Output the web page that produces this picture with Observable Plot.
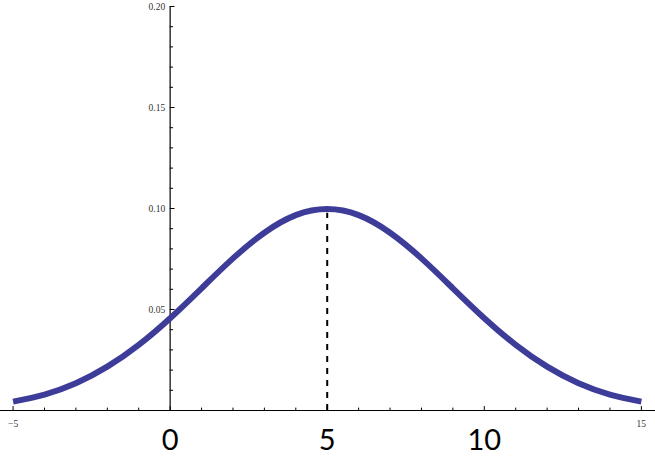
<!DOCTYPE html>
<html>
<head>
<meta charset="utf-8">
<script src="https://cdn.jsdelivr.net/npm/d3@7"></script>
<script src="https://cdn.jsdelivr.net/npm/@observablehq/plot@0.6"></script>
<style>
  html, body { margin: 0; padding: 0; background: #fff; }
  #chart svg { display: block; overflow: visible; }
</style>
</head>
<body>
<div id="chart"></div>
<script>
// Curve values (density-like bump peaking at x = 5)
const xs = [-5, -4, -3, -2, -1, 0, 1, 2, 3, 4, 5, 6, 7, 8, 9, 10, 11, 12, 13, 14, 15];
const ys = [0.0044, 0.0079, 0.0135, 0.0217, 0.0325, 0.0457, 0.0605, 0.0753, 0.0880, 0.0967, 0.0997,
            0.0967, 0.0880, 0.0753, 0.0605, 0.0457, 0.0325, 0.0217, 0.0135, 0.0079, 0.0044];
const peakX = 5;
const peakY = 0.0997;

// Axis ticks and labels
const xMinorTicks = [-4, -3, -2, -1, 1, 2, 3, 4, 6, 7, 8, 9, 11, 12, 13, 14];
const xMajorTicks = [-5, 0, 5, 10, 15];
const xSmallLabels = [-5, 15];
const xBigLabels = [0, 5, 10];
const yMinorTicks = [0.01, 0.02, 0.03, 0.04, 0.06, 0.07, 0.08, 0.09, 0.11, 0.12, 0.13, 0.14, 0.16, 0.17, 0.18, 0.19];
const yMajorTicks = [0.05, 0.10, 0.15, 0.20];
const yLabels = ["0.05", "0.10", "0.15", "0.20"];

const curve = xs.map((x, i) => ({x, y: ys[i]}));
const tickShape = {draw(context, l) { context.moveTo(0, 0); context.lineTo(0, -l); }};

const chart = Plot.plot({
  width: 655,
  height: 457,
  marginTop: 6,
  marginBottom: 47,
  marginLeft: 0,
  marginRight: 0,
  style: {background: "white"},
  x: {domain: [-5.4, 15.45], axis: null},
  y: {domain: [0, 0.2], axis: null},
  marks: [
    // axes lines
    Plot.ruleY([0], {stroke: "black", strokeWidth: 1.2}),
    Plot.ruleX([0], {y1: 0, y2: 0.2, stroke: "black", strokeWidth: 1.2}),
    // x ticks (pointing up)
    Plot.vector(xMinorTicks, {x: d => d, y: 0, length: 2.5, rotate: 0, anchor: "start", shape: tickShape, stroke: "black", strokeWidth: 1}),
    Plot.vector(xMajorTicks, {x: d => d, y: 0, length: 4, rotate: 0, anchor: "start", shape: tickShape, stroke: "black", strokeWidth: 1}),
    // y ticks (pointing right)
    Plot.vector(yMinorTicks, {x: 0, y: d => d, length: 2.5, rotate: 90, anchor: "start", shape: tickShape, stroke: "black", strokeWidth: 1}),
    Plot.vector(yMajorTicks, {x: 0, y: d => d, length: 4, rotate: 90, anchor: "start", shape: tickShape, stroke: "black", strokeWidth: 1}),
    // y labels
    Plot.text(yMajorTicks, {x: 0, y: d => d, text: (d, i) => yLabels[i], textAnchor: "end", dx: -5, fontSize: 9.5, fontFamily: "Liberation Serif", fill: "#333"}),
    // small x labels
    Plot.text(xSmallLabels, {x: d => d, y: 0, text: d => d < 0 ? "\u2212" + Math.abs(d) : String(d), dy: 13, fontSize: 9.5, fontFamily: "Liberation Serif", fill: "#333"}),
    // big x labels
    Plot.text(xBigLabels, {x: d => d, y: 0, text: d => String(d), dy: 30.5, fontSize: 29, fontFamily: "Lato", fill: "black"}),
    // dashed line at mean
    Plot.ruleX([peakX], {y1: 0, y2: peakY - 0.002, stroke: "black", strokeWidth: 2, strokeDasharray: "6,6"}),
    // curve
    Plot.line(curve, {x: "x", y: "y", curve: "natural", stroke: "#3d3d99", strokeWidth: 6, strokeLinecap: "butt"})
  ]
});
document.getElementById("chart").appendChild(chart);
</script>
</body>
</html>
